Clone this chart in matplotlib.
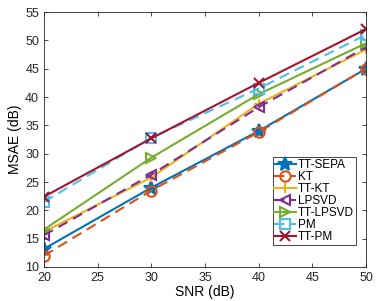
import matplotlib
matplotlib.use("Agg")
import matplotlib.pyplot as plt

plt.rcParams["font.family"] = ["Liberation Sans", "DejaVu Sans"]

snr = [20, 30, 40, 50]

tt_sepa  = [13.2, 24.0, 34.0, 45.0]
kt       = [12.0, 23.5, 33.8, 45.0]
tt_kt    = [16.2, 25.8, 38.8, 48.4]
lpsvd    = [15.6, 26.3, 38.2, 48.8]
tt_lpsvd = [16.6, 29.3, 40.5, 49.5]
pm       = [21.5, 32.8, 41.5, 51.0]
tt_pm    = [22.4, 32.7, 42.5, 52.0]

labels = ["TT-SEPA", "KT", "TT-KT", "LPSVD", "TT-LPSVD", "PM", "TT-PM"]
series = [tt_sepa, kt, tt_kt, lpsvd, tt_lpsvd, pm, tt_pm]
colors = ["#0072BD", "#D95319", "#EDB120", "#7E2F8E", "#77AC30", "#4DBEEE", "#A2142F"]
markers = ["*", "o", "+", "<", ">", "s", "x"]
styles = ["-", "--", "-", "--", "-", "--", "-"]

fig = plt.figure(figsize=(3.89, 3.01), dpi=100)
ax = fig.add_axes([0.113, 0.113, 0.828, 0.847])

for y, lab, c, m, ls in zip(series, labels, colors, markers, styles):
    filled = m in ("*", "+", "x")
    ax.plot(snr, y, ls, color=c, marker=m, label=lab, linewidth=1.5,
            markersize=10 if m == "*" else 7.5,
            markerfacecolor=c if filled else "none",
            markeredgewidth=1.5, dashes=(5, 3) if ls == "--" else (None, None))

ax.set_xlim(20, 50)
ax.set_ylim(10, 55)
ax.set_xticks([20, 25, 30, 35, 40, 45, 50])
ax.set_yticks(range(10, 56, 5))
ax.tick_params(direction="in", top=True, right=True, labelsize=9,
               colors="#262626", length=3, width=0.6)
for s in ax.spines.values():
    s.set_color("#262626")
    s.set_linewidth(0.6)
ax.set_xlabel("SNR (dB)", fontsize=10, labelpad=1)
ax.set_ylabel("MSAE (dB)", fontsize=10, labelpad=2)

leg = ax.legend(loc="lower right", bbox_to_anchor=(0.968, 0.088), fontsize=8.5,
                handlelength=1.8, handletextpad=0.2, borderpad=0.15,
                labelspacing=0.0, borderaxespad=0, fancybox=False,
                framealpha=1)
leg.get_frame().set_edgecolor("#262626")
leg.get_frame().set_linewidth(0.6)

fig.savefig("out.png", dpi=100)
